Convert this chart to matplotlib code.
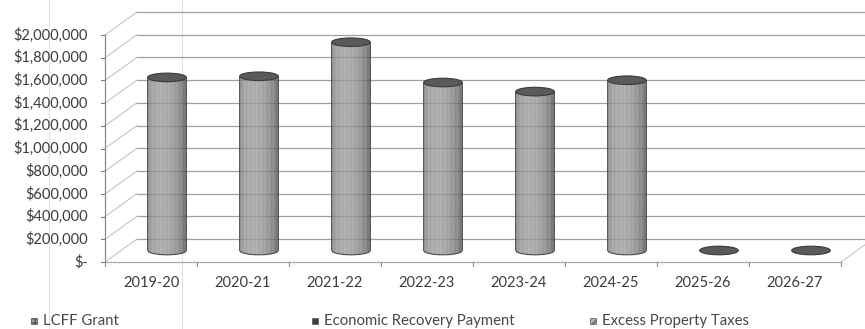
import numpy as np
import matplotlib
matplotlib.use('Agg')
import matplotlib.pyplot as plt
import matplotlib.transforms as mtransforms
from matplotlib.patches import Ellipse, Polygon, Rectangle
from matplotlib.collections import PolyCollection
from matplotlib.lines import Line2D

plt.rcParams['font.family'] = ['Lato', 'DejaVu Sans']

# revenue by fiscal year
years = ['2019-20', '2020-21', '2021-22', '2022-23', '2023-24', '2024-25', '2025-26', '2026-27']
lcff_grant = [1525000, 1535000, 1835000, 1480000, 1400000, 1500000, 0, 0]
economic_recovery = [0, 0, 0, 0, 0, 0, 0, 0]
excess_property_taxes = [0, 0, 0, 0, 0, 0, 0, 0]
series_names = ['LCFF Grant', 'Economic Recovery Payment', 'Excess Property Taxes']
y_ticks = [0, 200000, 400000, 600000, 800000, 1000000,
           1200000, 1400000, 1600000, 1800000, 2000000]

W, H = 865, 329
fig = plt.figure(figsize=(W / 100, H / 100), dpi=100)
ax = fig.add_axes([105 / W, 67 / H, 736 / W, 227 / H])
ax.set_xlim(-0.5, len(years) - 0.5)
ax.set_ylim(0, 2000000)
ax.set_axis_off()

DX, DY = 32, 23          # depth of the 3-d box, pixels
ident = mtransforms.IdentityTransform()
grid_c = '#a0a0a0'
text_c = '#3c3c3c'
x0, x1 = -0.5, len(years) - 0.5


def px(x, y, depth=0.0):
    X, Y = ax.transData.transform((x, y))
    return X + DX * depth, Y + DY * depth


def seg(p, q, **kw):
    ax.add_line(Line2D([p[0], q[0]], [p[1], q[1]], transform=ident,
                       clip_on=False, **kw))


# walls: back gridlines plus the diagonals on the left wall
for v in y_ticks:
    front = px(x0, v)
    back = px(x0, v, 1)
    seg(back, px(x1, v, 1), color=grid_c, lw=0.9)
    seg(front, back, color='#c4c4c4', lw=0.8)
    seg((front[0] - 4, front[1]), front, color='#808080', lw=0.8)
    ax.text(front[0] - 17, front[1], '$-' if v == 0 else f'${v:,.0f}',
            transform=ident, ha='right', va='center', fontsize=10.5, color=text_c)

# front axis and floor edges
seg(px(x0, 0), px(x0, 2000000), color='#8a8a8a', lw=0.9)
seg(px(x0, 0), px(x1, 0), color='#a8a8a8', lw=0.9)
seg(px(x1, 0), px(x1, 0, 1), color='#c8c8c8', lw=0.8)
for k in range(len(years) + 1):
    p = px(x0 + k, 0)
    seg(p, (p[0], p[1] - 4), color='#909090', lw=0.8)

for i, lab in enumerate(years):
    p = px(i, 0)
    ax.text(p[0], p[1] - 21, lab, transform=ident, ha='center', va='center',
            fontsize=10.5, color=text_c)


def cylinder(i, bottom, top, tone):
    cx, yb = px(i, bottom, 0.5)
    _, yt = px(i, top, 0.5)
    r = px(i + 0.21, 0)[0] - px(i, 0)[0]
    b = 4.3
    u = np.linspace(-1, 1, 49)
    polys, cols = [], []
    for a, c in zip(u[:-1], u[1:]):
        t = 0.5 * (a + c)
        light = np.clip(1 - ((t + 0.25) / 1.25) ** 2, 0, 1)
        g = (0.33 + 0.28 * light) * tone
        polys.append([(cx + a * r, yt), (cx + c * r, yt),
                      (cx + c * r, yb - b * np.sqrt(max(0, 1 - c * c))),
                      (cx + a * r, yb - b * np.sqrt(max(0, 1 - a * a)))])
        cols.append((g, g, g))
    ax.add_collection(PolyCollection(polys, facecolors=cols, edgecolors='none',
                                     transform=ident, clip_on=False, zorder=3))
    arc = [(cx + s * r, yb - b * np.sqrt(1 - s * s)) for s in np.linspace(-1, 1, 40)]
    outline = [(cx - r, yt)] + arc + [(cx + r, yt)]
    ax.add_patch(Polygon(outline, closed=False, fill=False, ec='#4a4a4a', lw=0.8,
                         transform=ident, clip_on=False, zorder=3))


def cap(i, value):
    cx, yt = px(i, value, 0.5)
    r = px(i + 0.21, 0)[0] - px(i, 0)[0]
    ax.add_patch(Ellipse((cx, yt), 2 * r, 8.6, fc='#5a5a5a', ec='#3a3a3a', lw=0.8,
                         transform=ident, clip_on=False, zorder=4))


series = [lcff_grant, economic_recovery, excess_property_taxes]
tones = [1.0, 0.7, 1.25]
for i in range(len(years)):
    base = 0
    for vals, tone in zip(series, tones):
        if vals[i] > 0:
            cylinder(i, base, base + vals[i], tone)
            base += vals[i]
    cap(i, base)

# legend along the bottom
legend_x = [31, 312, 590]
hatches = ['++++', None, '////']
fills = ['#9a9a9a', '#3e3e3e', '#b0b0b0']
for x, name, h, fc in zip(legend_x, series_names, hatches, fills):
    fig.add_artist(Rectangle((x, 5), 6, 6, transform=ident, fc=fc, ec='#555555',
                             lw=0.5, hatch=h))
    fig.text(x + 12, 8, name, transform=ident, ha='left', va='center',
             fontsize=10.7, color='#474747')

# faint vertical streaks across the page
for x in (49, 182):
    fig.add_artist(Line2D([x, x], [0, H], transform=ident, color='#e2e2e2',
                          lw=0.8, zorder=0))

fig.savefig('out.png', dpi=100)
